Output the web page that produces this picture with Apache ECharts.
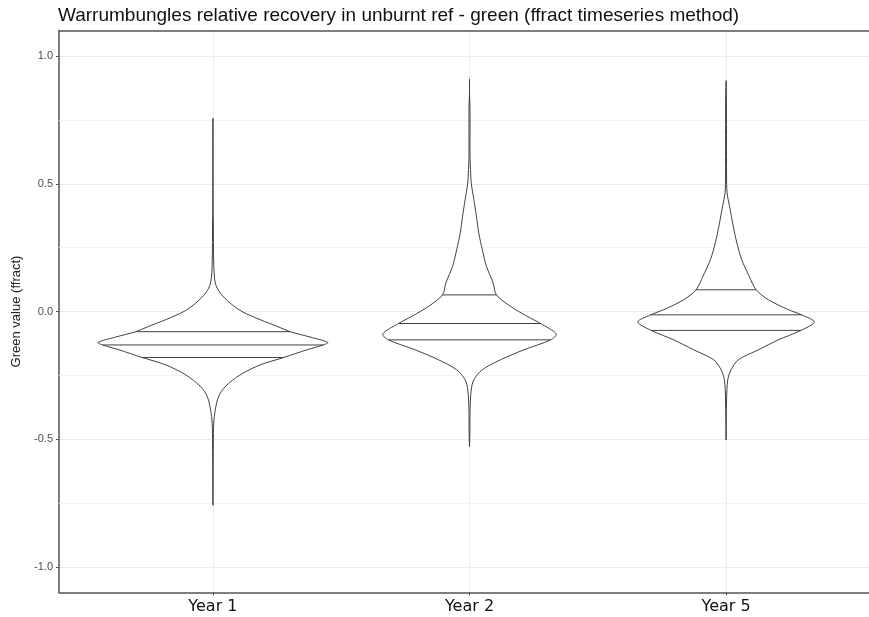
<!DOCTYPE html>
<html>
<head>
<meta charset="utf-8">
<script src="https://cdn.jsdelivr.net/npm/echarts@6/dist/echarts.min.js"></script>
<style>
html,body{margin:0;padding:0;background:#fff;}
#chart{width:869px;height:617px;}
</style>
</head>
<body>
<div id="chart"></div>
<script>
// ---- data ----
const categories = ['Year 1', 'Year 2', 'Year 5'];
const categoryPositions = [1, 2, 3];
const yTickValues = [-1, -0.5, 0, 0.5, 1];
const yMinorValues = [-0.75, -0.25, 0.25, 0.75];

// density profiles: [green value, violin half-width (category units)]
const year1Density = [
  [-0.758, 0], [-0.52, 0.0015], [-0.437, 0.003], [-0.385, 0.009], [-0.333, 0.022],
  [-0.294, 0.048], [-0.248, 0.106], [-0.209, 0.184], [-0.18, 0.276], [-0.15, 0.366],
  [-0.131, 0.43], [-0.121, 0.448], [-0.1, 0.379], [-0.079, 0.301], [-0.058, 0.25],
  [-0.032, 0.184], [0.0, 0.113], [0.033, 0.067], [0.073, 0.028], [0.112, 0.009],
  [0.19, 0.003], [0.35, 0.0015], [0.4, 0.0004], [0.756, 0]
];
const year2Density = [
  [-0.529, 0], [-0.476, 0.0015], [-0.385, 0.0023], [-0.307, 0.0066], [-0.267, 0.017],
  [-0.228, 0.05], [-0.189, 0.121], [-0.15, 0.212], [-0.111, 0.316], [-0.088, 0.338],
  [-0.047, 0.277], [-0.019, 0.225], [0.02, 0.16], [0.065, 0.105], [0.112, 0.092],
  [0.177, 0.066], [0.242, 0.05], [0.308, 0.036], [0.373, 0.027], [0.438, 0.017],
  [0.504, 0.0066], [0.556, 0.004], [0.6, 0.002], [0.8, 0.002], [0.84, 0.0004], [0.909, 0]
];
const year5Density = [
  [-0.503, 0], [-0.346, 0.002], [-0.267, 0.0066], [-0.228, 0.0195], [-0.189, 0.048],
  [-0.15, 0.126], [-0.111, 0.204], [-0.074, 0.292], [-0.041, 0.344], [-0.013, 0.294],
  [0.007, 0.243], [0.046, 0.165], [0.085, 0.117], [0.138, 0.09], [0.203, 0.061],
  [0.269, 0.042], [0.334, 0.028], [0.399, 0.016], [0.465, 0.004], [0.53, 0.002],
  [0.85, 0.0015], [0.904, 0]
];
// quantiles drawn inside each violin: 25%, 50%, 75%
const year1Quantiles = [-0.18, -0.131, -0.079];
const year2Quantiles = [-0.111, -0.047, 0.065];
const year5Quantiles = [-0.074, -0.013, 0.085];

const densities = [year1Density, year2Density, year5Density];
const quantiles = [year1Quantiles, year2Quantiles, year5Quantiles];

function halfWidthAt(dens, v) {
  for (let k = 0; k < dens.length - 1; k++) {
    const a = dens[k], b = dens[k + 1];
    if (v >= a[0] && v <= b[0]) {
      const t = (v - a[0]) / (b[0] - a[0]);
      return a[1] + t * (b[1] - a[1]);
    }
  }
  return 0;
}

const chart = echarts.init(document.getElementById('chart'), null, {renderer: 'canvas'});
const lineColor = '#404040';

const option = {
  animation: false,
  backgroundColor: '#fff',
  title: {
    text: 'Warrumbungles relative recovery in unburnt ref - green (ffract timeseries method)',
    left: 58,
    top: 6,
    padding: 0,
    textStyle: {fontFamily: 'Liberation Sans', fontSize: 19, fontWeight: 'normal', color: '#111'}
  },
  grid: {
    left: 59, width: 821, top: 30.5, bottom: 24.5,
    outerBoundsMode: 'none',
    show: false,
    containLabel: false
  },
  xAxis: [{
    type: 'value', min: 0.4, max: 3.6,
    axisLine: {show: true, onZero: false, lineStyle: {color: '#555', width: 1.5}},
    axisTick: {show: true, length: 3, customValues: categoryPositions, lineStyle: {color: '#555'}},
    axisLabel: {
      customValues: categoryPositions, margin: 6,
      formatter: v => categories[Math.round(v) - 1],
      fontFamily: 'DejaVu Sans', fontSize: 16, color: '#111'
    },
    splitLine: {show: true, lineStyle: {color: '#ebebeb', width: 1}}
  }, {
    type: 'value', min: 0.4, max: 3.6, position: 'top',
    axisLine: {show: true, onZero: false, lineStyle: {color: '#555', width: 1.5}},
    axisTick: {show: false}, axisLabel: {show: false}, splitLine: {show: false}
  }],
  yAxis: {
    type: 'value', min: -1.1, max: 1.1,
    name: 'Green value (ffract)', nameLocation: 'middle', nameGap: 36,
    nameTextStyle: {fontFamily: 'Liberation Sans', fontSize: 13, color: '#222'},
    axisLine: {show: true, onZero: false, lineStyle: {color: '#555', width: 1.5}},
    axisTick: {show: true, length: 3, customValues: yTickValues, lineStyle: {color: '#555'}},
    axisLabel: {
      customValues: yTickValues, margin: 6,
      formatter: v => v.toFixed(1),
      fontFamily: 'Liberation Sans', fontSize: 11, color: '#4d4d4d'
    },
    splitLine: {show: true, lineStyle: {color: '#ebebeb', width: 1}}
  },
  series: [
    {
      type: 'line', data: [], silent: true, z: 1,
      markLine: {
        silent: true, symbol: 'none', label: {show: false},
        lineStyle: {color: '#f3f3f3', type: 'solid', width: 1},
        data: yMinorValues.map(v => ({yAxis: v}))
      }
    },
    {
      type: 'custom', z: 5,
      data: categoryPositions.map(p => [p, 0]),
      encode: {x: 0, y: 1},
      renderItem: function (params, api) {
        const i = params.dataIndex;
        const cx = api.value(0);
        const dens = densities[i];
        const right = dens.map(d => api.coord([cx + d[1], d[0]]));
        const left = dens.slice().reverse().map(d => api.coord([cx - d[1], d[0]]));
        const children = [{
          type: 'polygon',
          shape: {points: right.concat(left), smooth: 0.3},
          style: {fill: '#fff', stroke: lineColor, lineWidth: 1}
        }];
        quantiles[i].forEach(q => {
          const hw = halfWidthAt(dens, q);
          const p1 = api.coord([cx - hw, q]);
          const p2 = api.coord([cx + hw, q]);
          children.push({
            type: 'line',
            shape: {x1: p1[0], y1: p1[1], x2: p2[0], y2: p2[1]},
            style: {stroke: lineColor, lineWidth: 1}
          });
        });
        return {type: 'group', children: children};
      }
    }
  ]
};
chart.setOption(option);
</script>
</body>
</html>
